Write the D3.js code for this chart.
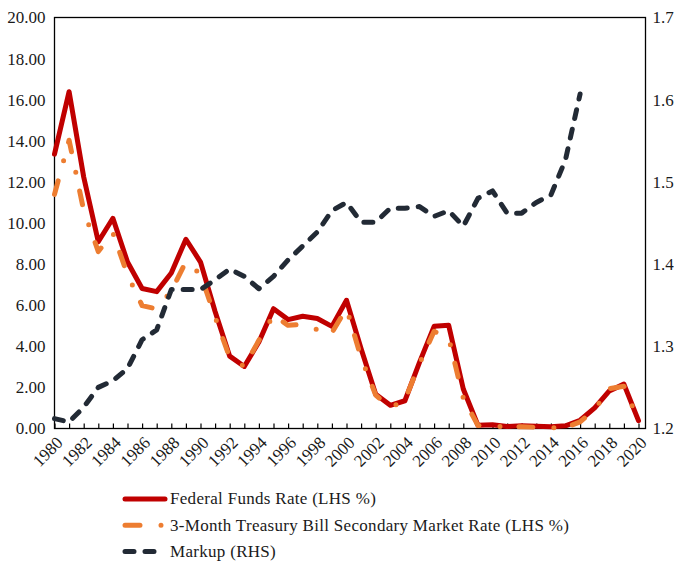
<!DOCTYPE html>
<html>
<head>
<meta charset="utf-8">
<script src="https://cdn.jsdelivr.net/npm/d3@7"></script>
<style>
  body { margin: 0; background: #fff; }
</style>
</head>
<body>
<div id="chart"></div>
<script>
// data
const years = d3.range(1980, 2021)
const fedFunds = [13.35, 16.39, 12.24, 9.09, 10.23, 8.10, 6.81, 6.66, 7.57, 9.21,
  8.10, 5.69, 3.52, 3.02, 4.21, 5.83, 5.30, 5.46, 5.35, 4.97,
  6.24, 3.88, 1.67, 1.13, 1.35, 3.22, 4.97, 5.02, 1.92, 0.16,
  0.18, 0.10, 0.14, 0.11, 0.09, 0.13, 0.40, 1.00, 1.83, 2.16, 0.38]
const tBill = [11.39, 14.03, 10.61, 8.61, 9.52, 7.48, 5.98, 5.82, 6.69, 8.12,
  7.51, 5.42, 3.45, 3.02, 4.29, 5.51, 5.02, 5.07, 4.81, 4.66,
  5.85, 3.45, 1.62, 1.01, 1.38, 3.16, 4.73, 4.41, 1.48, 0.15,
  0.14, 0.05, 0.09, 0.06, 0.03, 0.05, 0.32, 0.93, 1.94, 2.06, 0.37]
const markupYears = d3.range(1980, 2017)
const markup = [1.212, 1.208, 1.226, 1.250, 1.258, 1.273, 1.308, 1.320, 1.369, 1.369,
  1.369, 1.381, 1.394, 1.385, 1.370, 1.385, 1.405, 1.422, 1.439, 1.465,
  1.475, 1.451, 1.451, 1.468, 1.468, 1.470, 1.458, 1.465, 1.446, 1.480,
  1.489, 1.462, 1.462, 1.475, 1.484, 1.527, 1.607]
const leftTicks = [0, 2, 4, 6, 8, 10, 12, 14, 16, 18, 20]
const rightTicks = [1.2, 1.3, 1.4, 1.5, 1.6, 1.7]
const yearLabels = d3.range(1980, 2021, 2)
const legendNames = ['Federal Funds Rate (LHS %)',
  '3-Month Treasury Bill Secondary Market Rate (LHS %)',
  'Markup (RHS)']

// chart setting
const chart = { width: 674, height: 561, left: 54.5, right: 645.5, top: 17.5, bottom: 428.5 }
const font = '"Liberation Serif", "Times New Roman", serif'
const styles = [
  { color: '#C00000', dash: null },
  { color: '#ED7D31', dash: '14 21 0 19' },
  { color: '#222A35', dash: '9 11' }
]

const svg = d3.select('#chart').append('svg')
  .attr('width', chart.width)
  .attr('height', chart.height)

const xScale = d3.scaleLinear().domain([1980, 2020]).range([chart.left, 638.5])
const yLeft = d3.scaleLinear().domain([0, 20]).range([chart.bottom, chart.top])
const yRight = d3.scaleLinear().domain([1.2, 1.7]).range([chart.bottom, chart.top])

// frame
svg.append('rect')
  .attr('x', chart.left).attr('y', chart.top)
  .attr('width', chart.right - chart.left).attr('height', chart.bottom - chart.top)
  .attr('fill', 'none').attr('stroke', '#000').attr('stroke-width', 1.3)

// left axis
svg.append('g')
  .attr('transform', `translate(${chart.left},0)`)
  .call(d3.axisLeft(yLeft).tickValues(leftTicks).tickSize(0).tickPadding(9).tickFormat(d3.format('.2f')))
  .call(g => g.select('.domain').remove())
  .selectAll('text')
    .style('font-family', font).style('font-size', '17px').attr('fill', '#1a1a1a')

// right axis
svg.append('g')
  .attr('transform', `translate(${chart.right},0)`)
  .call(d3.axisRight(yRight).tickValues(rightTicks).tickSize(0).tickPadding(7).tickFormat(d3.format('.1f')))
  .call(g => g.select('.domain').remove())
  .selectAll('text')
    .style('font-family', font).style('font-size', '17px').attr('fill', '#1a1a1a')

// bottom ticks (inside)
svg.append('g')
  .attr('transform', `translate(0,${chart.bottom})`)
  .call(d3.axisBottom(xScale).tickValues(years).tickSize(-5).tickFormat(''))
  .call(g => g.select('.domain').remove())
  .selectAll('line').attr('stroke', '#000').attr('stroke-width', 1.2)

svg.append('g')
  .selectAll('text')
  .data(yearLabels)
  .join('text')
    .attr('transform', d => `translate(${xScale(d) + 5},${chart.bottom + 11}) rotate(-45)`)
    .attr('text-anchor', 'end')
    .attr('dy', '0.35em')
    .attr('fill', '#1a1a1a')
    .style('font-family', font)
    .style('font-size', '17px')
    .text(d => d)

// lines
const lineLeft = d3.line().x((d, i) => xScale(years[i])).y(d => yLeft(d))
const lineRight = d3.line().x((d, i) => xScale(markupYears[i])).y(d => yRight(d))

const series = [lineLeft(fedFunds), lineLeft(tBill), lineRight(markup)]
svg.append('g')
  .selectAll('path')
  .data(series)
  .join('path')
    .attr('d', d => d)
    .attr('fill', 'none')
    .attr('stroke', (d, i) => styles[i].color)
    .attr('stroke-width', 5)
    .attr('stroke-linejoin', 'round')
    .attr('stroke-linecap', 'round')
    .attr('stroke-dasharray', (d, i) => styles[i].dash)

// legend
const legend = svg.append('g')
  .selectAll('g')
  .data(legendNames)
  .join('g')
    .attr('transform', (d, i) => `translate(0,${499 + i * 26.3})`)

legend.append('line')
  .attr('x1', 125).attr('x2', 165)
  .attr('stroke', (d, i) => styles[i].color)
  .attr('stroke-width', 5)
  .attr('stroke-linecap', 'round')
  .attr('stroke-dasharray', (d, i) => i === 1 ? '15 21 0 30' : styles[i].dash)

legend.append('text')
  .attr('x', 170)
  .attr('dy', '0.32em')
  .attr('fill', '#1a1a1a')
  .style('font-family', font)
  .style('font-size', '17px')
  .style('letter-spacing', '0.3px')
  .text(d => d)
</script>
</body>
</html>
